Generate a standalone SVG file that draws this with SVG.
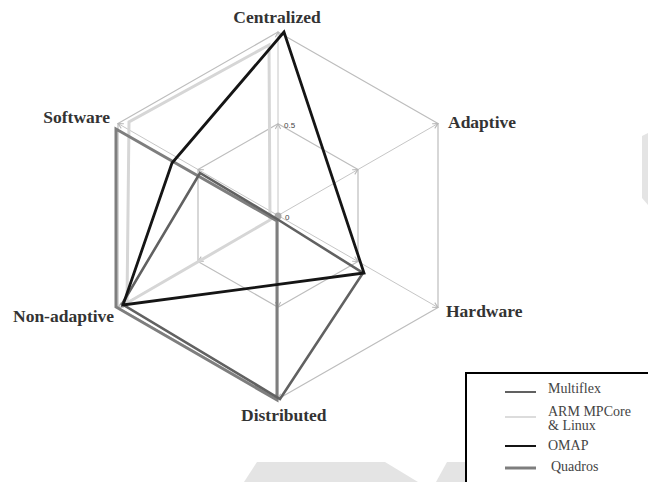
<svg xmlns="http://www.w3.org/2000/svg" width="648" height="482" viewBox="0 0 648 482">
  <defs>
    <marker id="tip" viewBox="0 0 8 8" refX="7" refY="4" markerWidth="7" markerHeight="7" markerUnits="userSpaceOnUse" orient="auto">
      <path d="M1,1 L7,4 L1,7" fill="none" stroke="#b8b8b8" stroke-width="1.2"/>
    </marker>
  </defs>
  <style>
    .axis { font-family: "Liberation Serif", "Times New Roman", serif; font-weight: bold; font-size: 17.5px; fill: #333; }
    .tick { font-family: "Liberation Sans", Arial, sans-serif; font-size: 8px; fill: #444; }
    .leg { font-family: "Liberation Serif", "Times New Roman", serif; font-size: 14px; fill: #444; }
    .ring { fill: none; stroke: #bdbdbd; stroke-width: 1.2; stroke-linejoin: round; }
    .spoke { fill: none; stroke: #c6c6c6; stroke-width: 1; marker-end: url(#tip); }
    .s { fill: none; stroke-linejoin: miter; }
    .multiflex { stroke: #616161; stroke-width: 2.6; }
    .arm { stroke: #d6d6d6; stroke-width: 3; }
    .omap { stroke: #151515; stroke-width: 2.8; }
    .quadros { stroke: #7e7e7e; stroke-width: 3; }
    .wm { fill: #e4e4e4; }
  </style>

  <rect width="648" height="482" fill="#ffffff"/>

  <!-- faint background shapes -->
  <g id="background">
    <polygon class="wm" points="257,462 385,462 418,482 244,482"/>
    <polygon class="wm" points="447,462 470,462 470,482 436,482"/>
    <polygon class="wm" points="642,136 648,133 648,205 642,198"/>
  </g>

  <!-- radar grid -->
  <g id="grid">
    <polygon class="ring" points="278,32 438,123.5 438,307.5 278,399 118,307.5 118,123.5"/>
    <polygon class="ring" points="278,123.75 358,169.5 358,261.5 278,307.25 198,261.5 198,169.5"/>
    <path class="spoke" d="M278,215.5 L278,123.75"/>
    <path class="spoke" d="M278,123.75 L278,32"/>
    <path class="spoke" d="M278,215.5 L358,169.5"/>
    <path class="spoke" d="M358,169.5 L438,123.5"/>
    <path class="spoke" d="M278,215.5 L358,261.5"/>
    <path class="spoke" d="M358,261.5 L438,307.5"/>
    <path class="spoke" d="M278,215.5 L278,307.25"/>
    <path class="spoke" d="M278,307.25 L278,399"/>
    <path class="spoke" d="M278,215.5 L198,261.5"/>
    <path class="spoke" d="M198,261.5 L118,307.5"/>
    <path class="spoke" d="M278,215.5 L198,169.5"/>
    <path class="spoke" d="M198,169.5 L118,123.5"/>
    <circle cx="278" cy="216" r="3.5" fill="#a8a8a8"/>
    <text class="tick" x="284" y="128">0.5</text>
    <text class="tick" x="285" y="220">0</text>
  </g>

  <!-- data series -->
  <g id="series">
    <polygon id="arm-mpcore-linux" class="s arm" points="269,45 270,220 127,303 129,122"/>
    <polygon id="quadros" class="s quadros" points="277,221 277,400 116,307 116,129"/>
    <polygon id="multiflex" class="s multiflex" points="277,219 363,273 280,399 122,304 200,173"/>
    <polygon id="omap" class="s omap" points="284,32 172,163 123,305 364,273"/>
  </g>

  <!-- axis titles -->
  <g id="axis-labels">
    <text id="lbl-centralized" class="axis" x="277" y="23" text-anchor="middle">Centralized</text>
    <text id="lbl-adaptive" class="axis" x="448" y="128">Adaptive</text>
    <text id="lbl-hardware" class="axis" x="446" y="317">Hardware</text>
    <text id="lbl-distributed" class="axis" x="241" y="421">Distributed</text>
    <text id="lbl-nonadaptive" class="axis" x="13" y="322">Non-adaptive</text>
    <text id="lbl-software" class="axis" x="110" y="123" text-anchor="end">Software</text>
  </g>

  <!-- legend -->
  <g id="legend">
    <rect x="466" y="373" width="200" height="120" fill="#ffffff" stroke="#000000" stroke-width="2"/>
    <line x1="505" y1="392" x2="536" y2="392" stroke="#616161" stroke-width="2"/>
    <text class="leg" x="548" y="393">Multiflex</text>
    <line x1="505" y1="417" x2="536" y2="417" stroke="#dcdcdc" stroke-width="2"/>
    <text class="leg" x="548" y="416">ARM MPCore</text>
    <text class="leg" x="548" y="430">&amp; Linux</text>
    <line x1="505" y1="446" x2="536" y2="446" stroke="#151515" stroke-width="2"/>
    <text class="leg" x="548" y="450">OMAP</text>
    <line x1="505" y1="468" x2="536" y2="468" stroke="#7e7e7e" stroke-width="3"/>
    <text class="leg" x="551" y="471">Quadros</text>
  </g>
</svg>
